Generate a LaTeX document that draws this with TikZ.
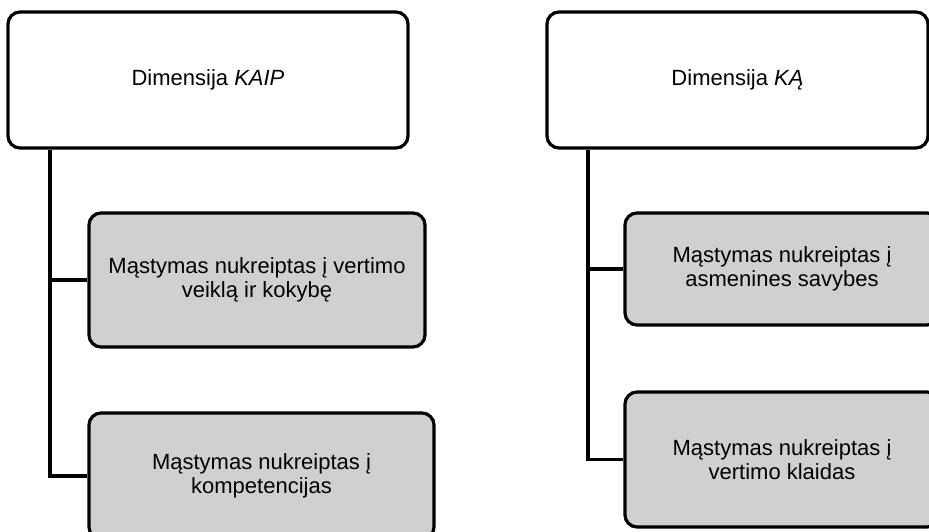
\documentclass[tikz,border=0pt]{standalone}
\usepackage{fontspec}
\setmainfont{Liberation Sans}
\definecolor{boxgray}{RGB}{208,208,208}
\begin{document}
\begin{tikzpicture}[x=1pt,y=-1pt,
  topbox/.style={draw=black, line width=3.2pt, rounded corners=12pt, fill=white,
    align=center, font=\fontsize{22}{24}\selectfont, inner sep=0pt},
  subbox/.style={topbox, fill=boxgray},
  conn/.style={draw=black, line width=3.6pt, line join=miter}]
\useasboundingbox (0,0) rectangle (929,532);
\clip (0,0) rectangle (929,532);
% left column
\node[topbox, minimum width=400pt, minimum height=136pt] (ltop) at (208,80) {Dimensija \textit{KAIP}};
\node[subbox, minimum width=336pt, minimum height=134pt] (lmid) at (257,280) {Mąstymas nukreiptas į vertimo\\veiklą ir kokybę};
\node[subbox, minimum width=345pt, minimum height=126pt] (lbot) at (261.5,476) {Mąstymas nukreiptas į\\kompetencijas};
\coordinate (tl) at (50,148);
\draw[conn] (ltop.south -| tl) -- (tl |- lbot.west) -- (lbot.west);
\draw[conn] (tl |- lmid.west) -- (lmid.west);
% right column
\node[topbox, minimum width=381pt, minimum height=136pt] (rtop) at (737.5,80) {Dimensija \textit{KĄ}};
\node[subbox, minimum width=314pt, minimum height=112pt] (rmid) at (782,269) {Mąstymas nukreiptas į\\asmenines savybes};
\node[subbox, minimum width=314pt, minimum height=135pt] (rbot) at (782,459.5) {Mąstymas nukreiptas į\\vertimo klaidas};
\coordinate (tr) at (588,148);
\draw[conn] (rtop.south -| tr) -- (tr |- rbot.west) -- (rbot.west);
\draw[conn] (tr |- rmid.west) -- (rmid.west);
\end{tikzpicture}
\end{document}
